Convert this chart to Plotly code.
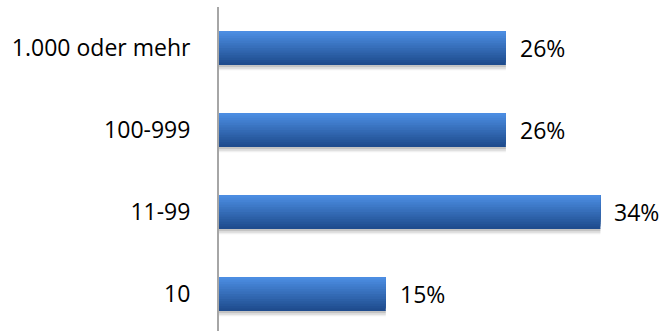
import plotly.graph_objects as go
import numpy as np

categories = ["10", "11-99", "100-999", "1.000 oder mehr"]
values = [15.0, 34.3, 25.8, 25.8]
labels = ["15%", "34%", "26%", "26%"]

FONT = "Open Sans"
bar_w = 0.415
n_strips = 14
top_col = np.array([0x4c, 0x8d, 0xe2])
bot_col = np.array([0x1f, 0x4c, 0x8e])

fig = go.Figure()
# soft shadow under bars
for k, a in enumerate([0.10, 0.16, 0.22]):
    fig.add_trace(go.Bar(
        y=categories, x=values, orientation="h",
        width=0.075 - k * 0.02, offset=-bar_w / 2 - 0.075 + k * 0.02 + 0.01,
        marker=dict(color="rgba(110,110,110,%.2f)" % a, line=dict(width=0)),
        hoverinfo="skip", showlegend=False,
    ))
# gradient: overlapping bars sharing the top edge, shrinking from the bottom
for i in range(n_strips):
    t = 1 - i / (n_strips - 1)
    c = top_col * (1 - t) + bot_col * t
    col = "rgb(%d,%d,%d)" % tuple(int(v) for v in c)
    w = bar_w * (1 - i / n_strips)
    fig.add_trace(go.Bar(
        y=categories, x=values, orientation="h",
        width=w, offset=bar_w / 2 - w,
        marker=dict(color=col, line=dict(width=0)),
        hoverinfo="skip", showlegend=False,
    ))

# value labels: y given as category index (avoids "10" being read as a number)
for idx, (v, l) in enumerate(zip(values, labels)):
    fig.add_annotation(x=v, y=idx, text=l, showarrow=False, xanchor="left",
                       xshift=12, font=dict(family=FONT, size=23, color="#000"))

fig.update_layout(
    width=662, height=331,
    margin=dict(l=219, r=0, t=7, b=0),
    plot_bgcolor="white", paper_bgcolor="white",
    barmode="overlay",
    showlegend=False,
    xaxis=dict(range=[0, 39.84], visible=False, showgrid=False, zeroline=False),
    yaxis=dict(
        type="category",
        categoryorder="array", categoryarray=categories,
        range=[-0.451, 3.5],
        showline=True, linecolor="#a6a6a6", linewidth=2,
        showgrid=False, zeroline=False, ticks="",
        ticklabelstandoff=22,
        tickfont=dict(family=FONT, size=23, color="#000"),
    ),
)

fig.write_html("out.html")
